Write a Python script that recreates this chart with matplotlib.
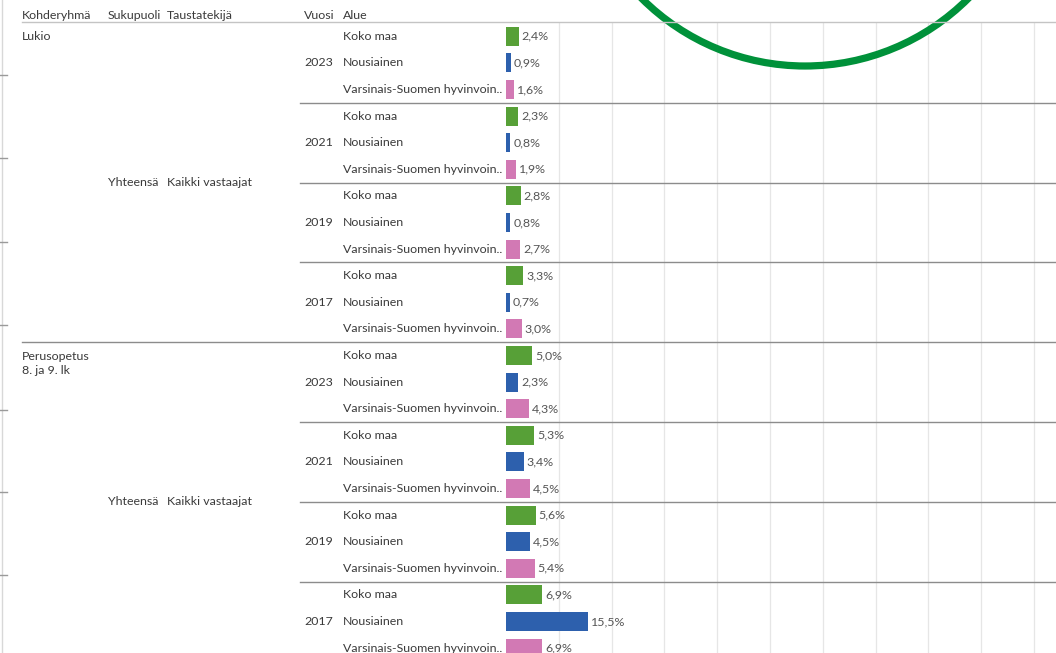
import matplotlib
matplotlib.use("Agg")
import matplotlib.pyplot as plt
from matplotlib.patches import Circle

# ---------------------------------------------------------------------
# data
groups = ["Lukio", "Perusopetus\n8. ja 9. lk"]
years = ["2023", "2021", "2019", "2017"]
areas = ["Koko maa", "Nousiainen", "Varsinais-Suomen hyvinvoin.."]
sukupuoli = "Yhteensä"
taustatekija = "Kaikki vastaajat"
headers = ["Kohderyhmä", "Sukupuoli", "Taustatekijä", "Vuosi", "Alue"]

# percent, per group -> per year -> per area
lukio = [[2.4, 0.9, 1.6],
         [2.3, 0.8, 1.9],
         [2.8, 0.8, 2.7],
         [3.3, 0.7, 3.0]]
perusopetus = [[5.0, 2.3, 4.3],
               [5.3, 3.4, 4.5],
               [5.6, 4.5, 5.4],
               [6.9, 15.5, 6.9]]
values = [lukio, perusopetus]

area_colors = ["#57a037", "#2d60ad", "#d279b4"]
# ---------------------------------------------------------------------
W, H = 1056, 653
ROW0, ROWH = 36.3, 26.6      # pixel centre of first row, row height
HEAD_Y = 22                  # header rule
BAR_X0 = 506                 # pixel where the bars start
PX_PER_PCT = 5.28
TXT = "#3a3a3a"
FS = 8.9

plt.rcParams['font.family'] = ['Lato', 'DejaVu Sans']
fig = plt.figure(figsize=(W / 100, H / 100), dpi=100)


def row_px(i):
    return ROW0 + ROWH * i


# bar axes
axBar = fig.add_axes([BAR_X0 / W, 0, (W - BAR_X0) / W, (H - HEAD_Y) / H])
axBar.set_xlim(0, (W - BAR_X0) / PX_PER_PCT)
axBar.set_ylim((H - ROW0) / ROWH, (HEAD_Y - ROW0) / ROWH)
axBar.set_xticks(range(10, 101, 10))
axBar.set_yticks([])
axBar.tick_params(length=0, labelbottom=False)
axBar.grid(True, axis='x', color='#e6e6e6', lw=0.9)
axBar.set_axisbelow(True)
for s in axBar.spines.values():
    s.set_visible(False)

ypos, widths, cols = [], [], []
for g, gvals in enumerate(values):
    for y, yvals in enumerate(gvals):
        for a, v in enumerate(yvals):
            ypos.append(g * 12 + y * 3 + a)
            widths.append(v)
            cols.append(area_colors[a])
axBar.barh(ypos, widths, height=0.72, color=cols, zorder=2)
for yp, v in zip(ypos, widths):
    axBar.text(v + 0.55, yp, f"{v:.1f}%".replace(".", ","), va='center',
               ha='left', fontsize=FS, color='#555555', zorder=3)

# table axes, pixel coordinates
ax = fig.add_axes([0, 0, 1, 1])
ax.set_xlim(0, W)
ax.set_ylim(H, 0)
ax.axis('off')

head_x = [22, 108, 167, 304, 343]
for hx, h in zip(head_x, headers):
    ax.text(hx, 15.5, h, fontsize=FS, color=TXT, va='center', ha='left')
ax.plot([22, W], [HEAD_Y, HEAD_Y], color='#c4c4c4', lw=1)

for g, gname in enumerate(groups):
    base = g * 12
    ax.text(22, row_px(base) - 5, gname, fontsize=FS, color=TXT,
            va='top', ha='left', linespacing=1.4)
    ax.text(108, row_px(base + 5.5), sukupuoli, fontsize=FS, color=TXT,
            va='center', ha='left')
    ax.text(167, row_px(base + 5.5), taustatekija, fontsize=FS, color=TXT,
            va='center', ha='left')
    for y, yr in enumerate(years):
        ax.text(304, row_px(base + y * 3 + 1), yr, fontsize=FS, color=TXT,
                va='center', ha='left')
        for a, area in enumerate(areas):
            ax.text(343, row_px(base + y * 3 + a), area, fontsize=FS,
                    color=TXT, va='center', ha='left')
        if y > 0:
            ax.plot([300, W], [row_px(base + y * 3 - 0.5)] * 2,
                    color='#8c8c8c', lw=1)
    if g > 0:
        ax.plot([22, W], [row_px(base - 0.5)] * 2, color='#8c8c8c', lw=1)

# left edge leftovers
ax.plot([2, 2], [0, H], color='#d8d8d8', lw=1)
for ty in [75, 158, 242, 325, 410, 492, 575]:
    ax.plot([0, 7], [ty, ty], color='#9a9a9a', lw=1)

# green highlight circle
ax.add_patch(Circle((805, -165), 231, fill=False, ec='#00913a', lw=5.2))

fig.savefig("out.png", dpi=100)
